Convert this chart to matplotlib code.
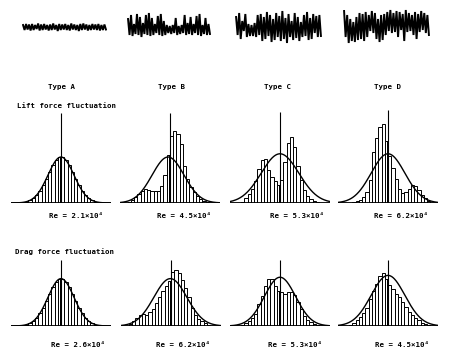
import numpy as np
import matplotlib
matplotlib.use("Agg")
import matplotlib.pyplot as plt

W, H = 450, 351

# ---------------- data ----------------
types = ["Type A", "Type B", "Type C", "Type D"]
row_titles = ["Lift force fluctuation", "Drag force fluctuation"]
re_lift = ["Re = 2.1×10⁴", "Re = 4.5×10⁴", "Re = 5.3×10⁴", "Re = 6.2×10⁴"]
re_drag = ["Re = 2.6×10⁴", "Re = 6.2×10⁴", "Re = 5.3×10⁴", "Re = 4.5×10⁴"]

# histogram bin centres (standardised fluctuation)
bin_centers = np.arange(-3.125, 3.126, 0.25)

lift_A = [0.01, 0.02, 0.03, 0.06, 0.10, 0.17, 0.27, 0.39, 0.53, 0.68, 0.82, 0.93, 0.99,
          0.99, 0.93, 0.82, 0.68, 0.53, 0.39, 0.27, 0.17, 0.10, 0.06, 0.03, 0.02, 0.01]
lift_B = [0.02, 0.06, 0.12, 0.20, 0.27, 0.30, 0.28, 0.27, 0.26, 0.27, 0.36, 0.60, 1.05,
          1.45, 1.56, 1.50, 1.28, 0.80, 0.52, 0.34, 0.24, 0.15, 0.09, 0.05, 0.03, 0.01]
lift_C = [0.00, 0.03, 0.10, 0.20, 0.30, 0.48, 0.75, 0.93, 0.96, 0.72, 0.57, 0.47, 0.40,
          0.50, 0.90, 1.30, 1.43, 1.22, 0.80, 0.50, 0.28, 0.15, 0.09, 0.05, 0.02, 0.00]
lift_D = [0.00, 0.00, 0.02, 0.04, 0.07, 0.12, 0.25, 0.50, 1.10, 1.42, 1.65, 1.72, 1.35,
          1.02, 0.76, 0.52, 0.30, 0.22, 0.24, 0.31, 0.39, 0.38, 0.29, 0.17, 0.10, 0.05]
drag_A = [0.01, 0.02, 0.03, 0.06, 0.11, 0.18, 0.28, 0.40, 0.55, 0.70, 0.85, 0.96, 1.02,
          1.02, 0.96, 0.85, 0.70, 0.55, 0.40, 0.28, 0.18, 0.11, 0.06, 0.03, 0.02, 0.01]
drag_B = [0.04, 0.10, 0.17, 0.23, 0.27, 0.25, 0.30, 0.36, 0.50, 0.62, 0.76, 0.87, 0.98,
          1.18, 1.21, 1.15, 1.00, 0.82, 0.62, 0.40, 0.25, 0.16, 0.11, 0.06, 0.03, 0.01]
drag_C = [0.01, 0.03, 0.06, 0.10, 0.17, 0.26, 0.48, 0.66, 0.88, 1.02, 1.03, 0.88, 0.77,
          0.74, 0.70, 0.74, 0.75, 0.67, 0.52, 0.37, 0.22, 0.14, 0.08, 0.04, 0.02, 0.00]
drag_D = [0.01, 0.03, 0.07, 0.13, 0.20, 0.29, 0.40, 0.58, 0.77, 0.92, 1.08, 1.15, 1.02,
          0.90, 0.80, 0.70, 0.62, 0.53, 0.41, 0.31, 0.24, 0.17, 0.12, 0.07, 0.04, 0.02]

# fitted normal curves: (mean, sigma, peak)
gauss_lift = [(0.0, 1.0, 1.0), (-0.15, 1.23, 1.0), (0.0, 1.45, 1.07), (0.0, 1.3, 1.07)]
gauss_drag = [(0.0, 1.0, 1.03), (-0.05, 1.27, 1.03), (0.0, 1.2, 1.06), (0.0, 1.3, 1.1)]
centre_line_lift = [1.96, 1.96, 1.98, 2.02]
centre_line_drag = [1.43, 1.43, 1.43, 1.43]

# time records (successive maxima / minima of the traces)
trace_upper = [
    [2, 3, 2.5, 3, 2, 3.5, 2.5, 3, 2, 2.5, 3.5, 2, 3, 2.5, 3, 2, 3.5, 2.5, 2, 3, 3.5, 2.5, 2, 3, 2.5, 3, 2, 2.5],
    [8, 12, 3, 13, 10, 4, 12, 14, 9, 3, 11, 13, 6, 2, 1, 2, 9, 1, 2, 12, 4, 10, 3, 11, 13, 2, 9, 3],
    [10, 14, 6, 13, 3, 2, 4, 12, 13, 10, 15, 12, 8, 14, 11, 16, 9, 13, 6, 14, 10, 5, 12, 15, 9, 13, 11, 12],
    [16, 12, 8, 5, 10, 14, 13, 15, 12, 16, 14, 8, 12, 13, 15, 17, 14, 16, 15, 13, 17, 14, 12, 15, 13, 16, 14, 12],
]
trace_lower = [
    [-3, -2.5, -3.5, -3, -2, -3.5, -3, -2.5, -3.5, -3, -2.5, -4, -3, -2.5, -3, -3.5, -2.5, -3, -4, -3, -2.5, -3.5, -3, -2.5, -3, -3.5, -3, -2.5],
    [-8, -9, -7, -8, -10, -7, -8, -9, -8, -6, -8, -9, -8, -6, -7, -6, -8, -7, -6, -8, -7, -8, -6, -8, -9, -7, -8, -7],
    [-8, -12, -4, -10, -9, -9, -10, -8, -14, -12, -9, -15, -13, -10, -14, -12, -16, -10, -13, -11, -14, -10, -9, -13, -12, -6, -10, -9],
    [-10, -16, -14, -15, -13, -12, -14, -10, -4, -6, -12, -15, -13, -8, -4, -6, -5, -10, -3, -14, -5, -4, -8, -12, -5, -3, -6, -8],
]

# ---------------- layout helpers ----------------
fig = plt.figure(figsize=(W / 100, H / 100), dpi=100)
fig.patch.set_facecolor("white")


def px_axes(x0, y_top, w, h):
    ax = fig.add_axes([x0 / W, 1 - (y_top + h) / H, w / W, h / H])
    ax.set_axis_off()
    return ax


FONT = dict(family="DejaVu Sans Mono", fontweight="bold", fontsize=5.3, color="black")


def ftext(x, y, s, ha="center"):
    fig.text(x / W, 1 - y / H, s, ha=ha, va="center", **FONT)


# ---------------- time traces ----------------
trace_x = [(22, 85), (127, 84), (235, 87), (343, 87)]
for (x0, w), up, lo in zip(trace_x, trace_upper, trace_lower):
    ax = px_axes(x0, 7, w, 40)
    n = len(up)
    t = np.arange(n)
    # signal oscillating between successive maxima and minima
    ts = np.ravel(np.column_stack([t - 0.25, t + 0.25]))
    ys = np.ravel(np.column_stack([up, lo]))
    ax.plot(ts, ys, color="black", lw=1.4, solid_joinstyle="miter")
    ax.set_xlim(-0.6, n - 0.4)
    ax.set_ylim(-20, 20)

# ---------------- histograms ----------------
UNIT = 46.0      # pixels per unit of height
XSPAN = 3.85
PXU = 13.0       # pixels per x unit
YMAX = 2.15


def histogram(cx, base, heights, gauss, top):
    w = 2 * XSPAN * PXU
    h = YMAX * UNIT
    ax = px_axes(cx - w / 2, base - h, w, h)
    ax.set_xlim(-XSPAN, XSPAN)
    ax.set_ylim(0, YMAX)
    ax.bar(bin_centers, heights, width=0.25, facecolor="white",
           edgecolor="black", linewidth=0.7)
    ax.bar(0, heights[12], width=0.2, color="black", linewidth=0)
    mu, sig, pk = gauss
    xx = np.linspace(-XSPAN, XSPAN, 300)
    ax.plot(xx, pk * np.exp(-0.5 * ((xx - mu) / sig) ** 2), color="black", lw=1.0)
    ax.vlines(0, 0, top, color="black", lw=0.8)
    ax.axhline(0, color="black", lw=1.3)


lift_data = [lift_A, lift_B, lift_C, lift_D]
drag_data = [drag_A, drag_B, drag_C, drag_D]
lift_cx = [61, 170, 280, 388]
drag_cx = [61, 171, 280, 388]

for i in range(4):
    histogram(lift_cx[i], 203, lift_data[i], gauss_lift[i], centre_line_lift[i])
    histogram(drag_cx[i], 326, drag_data[i], gauss_drag[i], centre_line_drag[i])

# ---------------- text ----------------
type_x = [61, 171, 278, 387]
for x, s in zip(type_x, types):
    ftext(x, 87.5, s)
ftext(17, 106.5, row_titles[0], ha="left")
ftext(15, 252, row_titles[1], ha="left")

re_lift_x = [76, 184, 297, 401]
re_drag_x = [78, 183, 295, 402]
for x, s in zip(re_lift_x, re_lift):
    ftext(x, 216, s)
for x, s in zip(re_drag_x, re_drag):
    ftext(x, 345, s)

fig.savefig("out.png", dpi=100, facecolor="white")
